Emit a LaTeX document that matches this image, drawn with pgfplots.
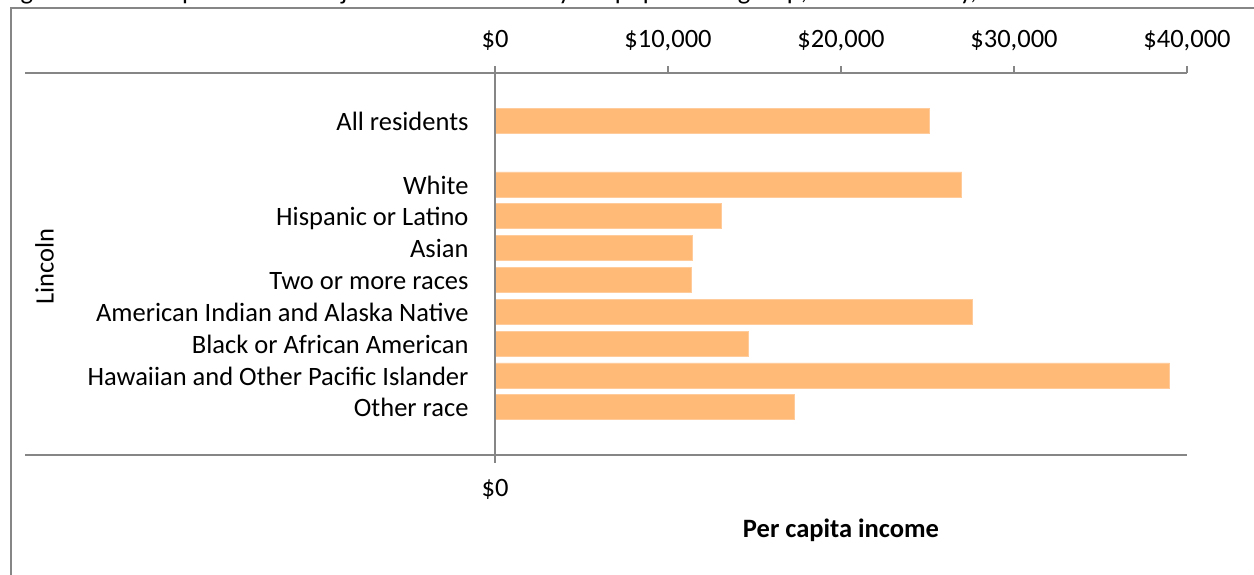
\documentclass[border=0pt]{standalone}
\usepackage{pgfplots}
\pgfplotsset{compat=1.18}
\usepackage{fontspec}
\setmainfont{Carlito}
\definecolor{barc}{RGB}{255,186,120}
\definecolor{axgray}{RGB}{134,134,134}
\begin{document}
\begin{tikzpicture}[x=0.415pt,y=-0.415pt]
\useasboundingbox (0,0) rectangle (1254,575);
% outer chart frame (cropped at right and bottom)
\draw[axgray,line width=0.85pt] (11,800) -- (11,8) -- (1500,8);
% title (cropped at top)
\node[anchor=base west,inner sep=0,font=\fontsize{11}{13}\selectfont] at (2,-1)
  {Figure 14. Per capita income adjusted for inflation by subpopulation group, Lincoln County, 2010--2014};
\begin{axis}[
  at={(205.43pt,-30.30pt)}, anchor=north west,
  scale only axis, width=287.18pt, height=158.53pt,
  xmin=0, xmax=40000, ymin=-1.5, ymax=10.5,
  axis line style={draw=none},
  major tick length=0pt,
  clip=false,
  xticklabel pos=upper,
  xtick={0,10000,20000,30000,40000},
  xticklabels={{\$0},{\$10,000},{\$20,000},{\$30,000},{\$40,000}},
  xticklabel style={anchor=base,yshift=10.4pt,inner sep=0pt,font=\fontsize{11}{13}\selectfont},
  ytick={0,1,2,3,4,5,6,7,9},
  yticklabels={Other race,Hawaiian and Other Pacific Islander,Black or African American,American Indian and Alaska Native,Two or more races,Asian,Hispanic or Latino,White,All residents},
  yticklabel style={anchor=base east,xshift=-10.8pt,yshift=-4.0pt,inner sep=0pt,font=\fontsize{11}{13}\selectfont},
  xbar, bar width=0.785,
]
\addplot[fill=barc,draw=barc!75!white,line width=0.3pt] coordinates {
  (25100,9)
  (26980,7)
  (13060,6)
  (11390,5)
  (11330,4)
  (27570,3)
  (14640,2)
  (39000,1)
  (17300,0)
};
% axis lines (Excel style: horizontal rules reach left over the label area)
\draw[axgray,line width=0.75pt] (rel axis cs:-0.6792,1) -- (rel axis cs:1,1);
\draw[axgray,line width=0.75pt] (rel axis cs:-0.6792,0) -- (rel axis cs:1,0);
\draw[axgray,line width=0.75pt] ([yshift=2.9pt]rel axis cs:0,1) -- ([yshift=-3.3pt]rel axis cs:0,0);
\draw[axgray,line width=0.75pt] (axis cs:10000,10.5) -- ([yshift=2.9pt]axis cs:10000,10.5);
\draw[axgray,line width=0.75pt] (axis cs:20000,10.5) -- ([yshift=2.9pt]axis cs:20000,10.5);
\draw[axgray,line width=0.75pt] (axis cs:30000,10.5) -- ([yshift=2.9pt]axis cs:30000,10.5);
\draw[axgray,line width=0.75pt] (axis cs:40000,10.5) -- ([yshift=2.9pt]axis cs:40000,10.5);
\node[anchor=base,inner sep=0pt,font=\fontsize{11}{13}\selectfont] at ([yshift=-17.4pt]axis cs:0,-1.5) {\$0};
\node[anchor=base,inner sep=0pt,font=\bfseries\fontsize{11}{13}\selectfont] at ([yshift=-34.4pt]axis cs:20000,-1.5) {Per capita income};
\node[rotate=90,inner sep=0pt,font=\fontsize{11}{13}\selectfont] at ([xshift=-187pt,yshift=-1.2pt]axis cs:0,4.5) {Lincoln};
\end{axis}
\end{tikzpicture}
\end{document}
